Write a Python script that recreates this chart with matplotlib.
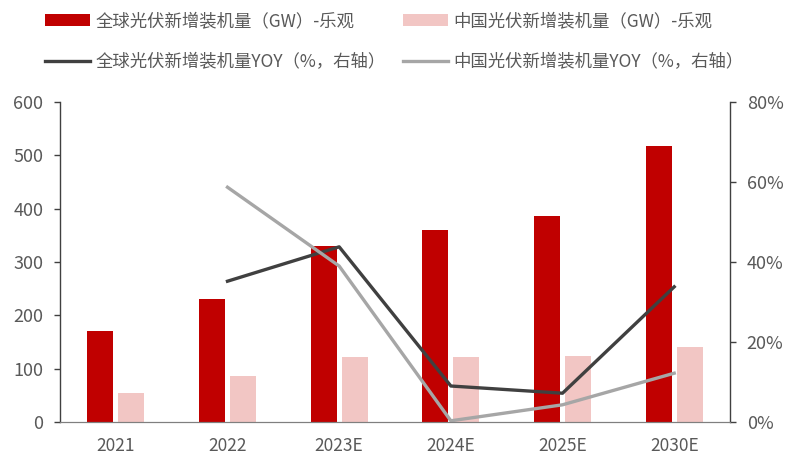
import numpy as np
import matplotlib.pyplot as plt
from matplotlib.ticker import PercentFormatter

plt.rcParams['font.family'] = ['Noto Sans CJK SC', 'DejaVu Sans']

# 装机量及同比数据
years = ['2021', '2022', '2023E', '2024E', '2025E', '2030E']
global_gw = [170, 230, 330, 360, 386, 518]
china_gw = [55, 87, 121, 122, 124, 140]
global_yoy = [None, 35.2, 43.8, 9.0, 7.2, 33.8]
china_yoy = [None, 58.7, 39.0, 0.3, 4.3, 12.2]

red = '#C00000'
pink = '#F2C6C4'
dark = '#404040'
grey = '#A6A6A6'
txt = '#595959'

fig = plt.figure(figsize=(7.85, 4.58), dpi=100)
ax = fig.add_axes([0.0764, 0.0786, 0.8536, 0.6986])
ax2 = ax.twinx()

x = np.arange(len(years))
w = 0.235
off = 0.139
b1 = ax.bar(x - off, global_gw, w, color=red, label='全球光伏新增装机量（GW）-乐观', zorder=2)
b2 = ax.bar(x + off, china_gw, w, color=pink, label='中国光伏新增装机量（GW）-乐观', zorder=2)

gy = np.array([np.nan if v is None else v for v in global_yoy], dtype=float)
cy = np.array([np.nan if v is None else v for v in china_yoy], dtype=float)
l1, = ax2.plot(x, gy, color=dark, lw=2.4, label='全球光伏新增装机量YOY（%，右轴）')
l2, = ax2.plot(x, cy, color=grey, lw=2.4, label='中国光伏新增装机量YOY（%，右轴）')

ax.set_xlim(-0.5, len(years) - 0.5)
ax.set_ylim(0, 600)
ax.set_yticks(range(0, 601, 100))
ax2.set_ylim(0, 80)
ax2.set_yticks(range(0, 81, 20))
ax2.yaxis.set_major_formatter(PercentFormatter(decimals=0))

ax.set_xticks(x)
ax.set_xticklabels(years)

for a in (ax, ax2):
    a.spines['top'].set_visible(False)
    a.spines['left'].set_color('#404040')
    a.spines['right'].set_color('#404040')
    a.spines['bottom'].set_color('#7F7F7F')
    a.spines['left'].set_linewidth(1.0)
    a.spines['right'].set_linewidth(1.0)
    a.tick_params(axis='y', labelsize=13, labelcolor=txt, color='#404040',
                  length=4, width=1, pad=8)
ax.tick_params(axis='x', labelsize=12.5, labelcolor=txt, length=0, pad=11)
ax2.spines['left'].set_visible(False)
ax.spines['right'].set_visible(False)

fig.legend(handles=[b1, l1, b2, l2], ncol=2, loc='upper left',
           bbox_to_anchor=(45 / 785, 1 - 12 / 458), frameon=False, fontsize=12.5,
           labelcolor=txt, handlelength=2.6, handletextpad=0.3,
           columnspacing=1.0, labelspacing=1.35, borderpad=0, borderaxespad=0)

fig.savefig('out.png', dpi=100, facecolor='white')
